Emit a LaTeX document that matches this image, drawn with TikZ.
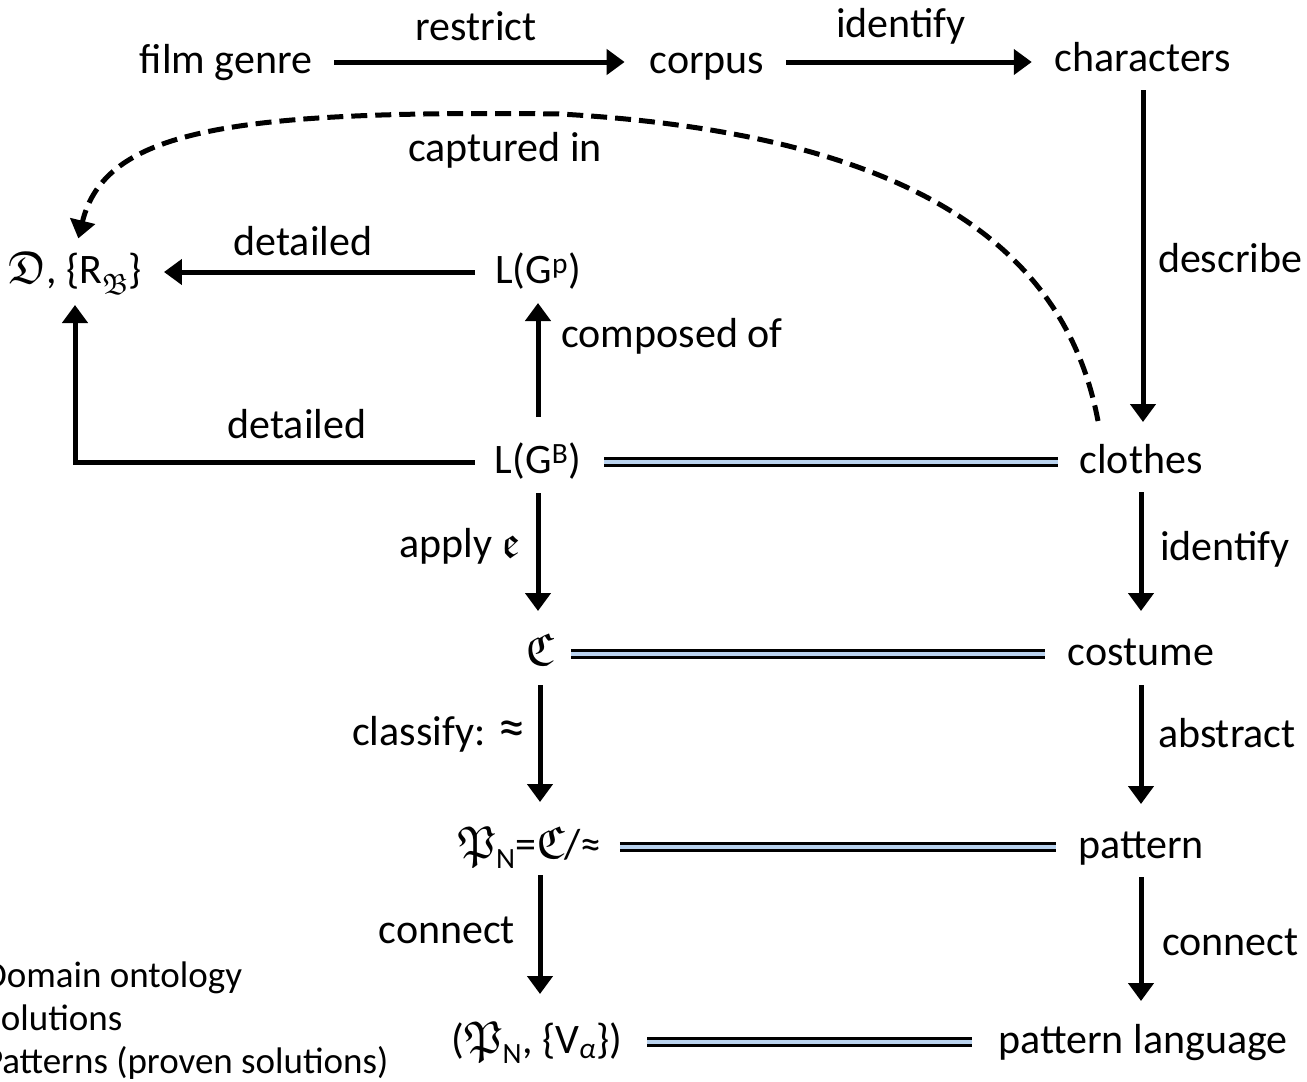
\documentclass[tikz,border=0pt]{standalone}
\usepackage{fontspec}
\setmainfont{Carlito}
\usetikzlibrary{arrows.meta}
% Euler Fraktur at any size
\DeclareFontFamily{U}{euf}{}
\DeclareFontShape{U}{euf}{m}{n}{<-> eufm10}{}
\newcommand\frk[1]{{\usefont{U}{euf}{m}{n}#1}}
\definecolor{gapblue}{RGB}{185,210,238}

\begin{document}
\begin{tikzpicture}[x=1pt,y=-1pt,
  every node/.style={font=\fontsize{42}{50}\selectfont, inner sep=0pt, outer sep=0pt},
  term/.style={anchor=base, text height=31pt, text depth=9pt},
  lab/.style={anchor=base},
  arr/.style={line width=5pt, -{Triangle[length=18pt,width=25pt]}},
  eqline/.style={line width=3pt, double=gapblue, double distance=3.5pt},
  dashline/.style={line width=5pt, dash pattern=on 16pt off 8pt, -{Triangle[length=18pt,width=25pt]}},
  legend/.style={anchor=base west, font=\fontsize{37}{44}\selectfont}
]
\useasboundingbox (0,0) rectangle (1307,1082);

% terms of the right-hand chain
\node[term] (fg)      at (226,73)  {film genre};
\node[term] (corpus)  at (707,73)  {corpus};
\node[term] (chars)   at (1143,71) {characters};
\node[term] (clothes) at (1141,473) {clothes};
\node[term] (costume) at (1141,665) {costume};
\node[term] (pattern) at (1141,858) {pattern};
\node[term] (plang)   at (1143,1053) {pattern language};

% formal counterparts
\node[term] (onto) at (75,283)  {{\fontsize{46}{50}\selectfont\frk{D}}, \{R\textsubscript{\frk{B}}\}};
\node[term] (lgp)  at (538,283) {L(G\textsuperscript{p})};
\node[term] (lgb)  at (538,473) {L(G\textsuperscript{B})};
\node[term] (fc)   at (540,665) {{\fontsize{46}{50}\selectfont\frk{C}}};
\node[term] (pn)   at (530,858) {{\fontsize{46}{50}\selectfont\frk{P}}\textsubscript{N}={\fontsize{46}{50}\selectfont\frk{C}}/≈};
\node[term] (pv)   at (537,1053) {({\fontsize{46}{50}\selectfont\frk{P}}\textsubscript{N}, \{V\textsubscript{\textit{α}}\})};

% top row
\draw[arr, shorten <=22pt, shorten >=25pt] (fg) -- (fg -| corpus.west);
\draw[arr, shorten <=22pt, shorten >=23pt] (corpus.east) -- (corpus.east -| chars.west);
\node[lab] (lrestrict) at (476,40) {restrict};
\node[lab] (lidtop)    at (901,37) {identify};

% right column
\draw[arr, shorten <=10pt, shorten >=20pt] (chars.south) -- (chars.south |- clothes.north);
\draw[arr, shorten <=10pt, shorten >=23pt] (clothes.south) -- (clothes.south |- costume.north);
\draw[arr, shorten <=11pt, shorten >=23pt] (costume.south) -- (costume.south |- pattern.north);
\draw[arr, shorten <=10pt, shorten >=21pt] (pattern.south) -- (pattern.south |- plang.north);
\node[lab, anchor=base west] (ldescribe) at (1158,272) {describe};
\node[lab, anchor=base west] (lidright)  at (1160,560) {identify};
\node[lab, anchor=base west] (labstract) at (1158,747) {abstract};
\node[lab, anchor=base west] (lconr)     at (1162,955) {connect};

% left column
\draw[arr, shorten <=25pt, shorten >=11pt] (lgb.north) -- (lgb.north |- lgp.south);
\draw[arr, shorten <=11pt, shorten >=23pt] (lgb.south) -- (lgb.south |- fc.north);
\draw[arr, shorten <=11pt, shorten >=25pt] (fc.south) -- (fc.south |- pn.north);
\draw[arr, shorten <=8pt, shorten >=28pt] (fc.south |- pn.south) -- (fc.south |- pv.north);
\node[lab] (lcomposed) at (672,347) {composed of};
\node[lab, anchor=base east] (lapply)    at (520,557) {apply {\fontsize{46}{50}\selectfont\frk{e}}};
\node[lab, anchor=base east] (lclassify) at (525,745) {classify: {\fontsize{54}{54}\selectfont ≈}};
\node[lab, anchor=base east] (lconl)     at (515,943) {connect};

% towards the domain ontology
\draw[arr, shorten <=20pt, shorten >=22pt] (lgp.west) -- (lgp.west -| onto.east);
\node[lab] (ldet1) at (303,255) {detailed};
\draw[arr, shorten <=20pt, shorten >=13pt] (lgb.west) -| (onto.south);
\node[lab] (ldet2) at (297,438) {detailed};

% equivalences
\draw[eqline, shorten <=23pt, shorten >=22pt] (lgb.east) -- (lgb.east -| clothes.west);
\draw[eqline, shorten <=17pt, shorten >=23pt] (fc.east) -- (fc.east -| costume.west);
\draw[eqline, shorten <=18pt, shorten >=22pt] (pn.east) -- (pn.east -| pattern.west);
\draw[eqline, shorten <=25pt, shorten >=26pt] (pv.east) -- (pv.east -| plang.west);

% captured in
\coordinate (capstart) at (1098,421);
\draw[dashline, shorten >=14pt] (capstart)
  .. controls (1068,262) and (935,135) .. (560,114)
  .. controls (230,110) and (105,130) .. (onto.north);
\node[lab] (lcaptured) at (505,161) {captured in};

% key
\begin{scope}
\clip (0,0) rectangle (1307,1082);
\node[legend] (key1) at (-16,987)  {Domain ontology};
\node[legend] (key2) at (-16,1030) {Solutions};
\node[legend] (key3) at (-16,1073) {Patterns (proven solutions)};
\end{scope}
\end{tikzpicture}
\end{document}
